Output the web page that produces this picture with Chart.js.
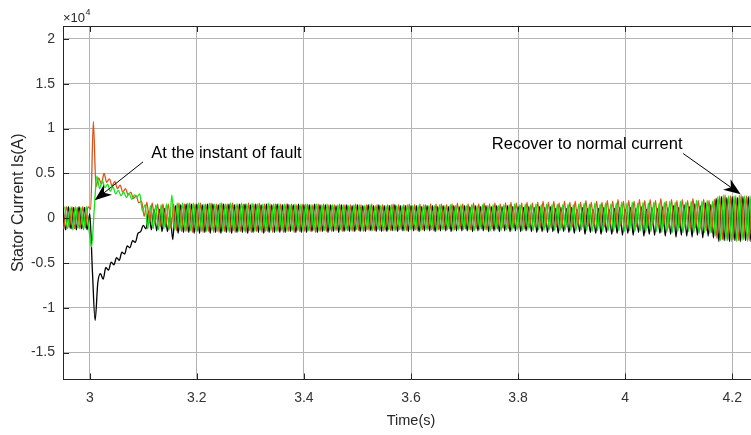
<!DOCTYPE html>
<html><head><meta charset="utf-8">
<script src="https://cdn.jsdelivr.net/npm/chart.js@4/dist/chart.umd.min.js"></script>
<style>html,body{margin:0;padding:0;background:#fff;overflow:hidden}#wrap{width:760px;height:435px}</style>
</head><body><div id="wrap"><canvas id="c" width="760" height="435"></canvas></div>
<script>
// ---- data (stator current, units of 1e4 A), one value per half cycle ----
const tStart = 2.95;          // first sample time (s)
const halfPeriod = 0.005;     // sample spacing (s)
const phaseOffsets = [0, 0.001667, 0.003333];
const xTicks = [3, 3.2, 3.4, 3.6, 3.8, 4, 4.2];
const yTicks = [-1.5, -1, -0.5, 0, 0.5, 1, 1.5, 2];
const xLabel = 'Time(s)';
const yLabel = 'Stator Current Is(A)';
const yExponent = '4';

const phaseBlack = [
 0.12,-0.13,0.13,-0.12,0.12,-0.13,0.13,-0.12,0.12,-0.13,
 0.05,-0.60,-1.14,-0.72,-0.62,-0.68,-0.55,-0.58,-0.49,-0.52,
 -0.44,-0.47,-0.38,-0.40,-0.31,-0.33,-0.25,-0.27,-0.17,-0.15,
 -0.08,-0.12,0.08,-0.13,0.10,-0.14,0.10,-0.15,0.11,-0.15,
 0.05,-0.24,0.14,-0.17,0.15,-0.16,0.16,-0.16,0.16,-0.17,
 0.16,-0.17,0.15,-0.16,0.16,-0.17,0.16,-0.16,0.15,-0.17,
 0.16,-0.16,0.16,-0.17,0.15,-0.16,0.16,-0.16,0.16,-0.17,
 0.15,-0.16,0.16,-0.16,0.15,-0.17,0.16,-0.16,0.15,-0.16,
 0.16,-0.16,0.15,-0.16,0.16,-0.15,0.15,-0.16,0.16,-0.16,
 0.15,-0.16,0.15,-0.15,0.16,-0.16,0.15,-0.15,0.15,-0.16,
 0.15,-0.15,0.14,-0.16,0.15,-0.15,0.15,-0.15,0.14,-0.15,
 0.15,-0.15,0.14,-0.15,0.15,-0.14,0.14,-0.15,0.15,-0.15,
 0.14,-0.15,0.14,-0.14,0.15,-0.15,0.14,-0.14,0.14,-0.15,
 0.14,-0.14,0.14,-0.15,0.13,-0.14,0.14,-0.14,0.14,-0.15,
 0.13,-0.14,0.14,-0.14,0.13,-0.15,0.14,-0.14,0.13,-0.14,
 0.14,-0.14,0.13,-0.15,0.14,-0.14,0.13,-0.14,0.14,-0.15,
 0.13,-0.14,0.14,-0.15,0.13,-0.14,0.14,-0.15,0.13,-0.14,
 0.13,-0.15,0.12,-0.14,0.13,-0.15,0.12,-0.16,0.13,-0.15,
 0.12,-0.16,0.13,-0.15,0.11,-0.17,0.12,-0.15,0.11,-0.16,
 0.12,-0.17,0.10,-0.15,0.12,-0.18,0.11,-0.16,0.10,-0.17,
 0.11,-0.18,0.12,-0.16,0.10,-0.18,0.11,-0.17,0.12,-0.19,
 0.10,-0.17,0.12,-0.19,0.11,-0.16,0.13,-0.20,0.10,-0.18,
 0.12,-0.19,0.11,-0.17,0.13,-0.20,0.12,-0.18,0.14,-0.21,
 0.12,-0.19,0.15,-0.20,0.13,-0.21,0.16,-0.19,0.14,-0.22,
 0.17,-0.20,0.15,-0.22,0.22,-0.26,0.24,-0.25,0.23,-0.26,
 0.24,-0.25,0.23,-0.26,0.24,-0.25,0.24,-0.26,0.23,-0.25
];
const phaseOrange = [
 -0.12,0.13,-0.11,0.13,-0.12,0.12,-0.12,0.13,-0.11,0.13,
 0.10,1.08,0.35,0.45,0.38,0.50,0.40,0.44,0.36,0.41,
 0.33,0.37,0.29,0.33,0.26,0.29,0.22,0.25,0.17,0.19,
 0.02,0.18,-0.05,0.17,-0.07,0.16,-0.09,0.16,-0.10,0.16,
 -0.12,0.16,-0.14,0.17,-0.15,0.16,-0.15,0.17,-0.16,0.16,
 -0.15,0.17,-0.16,0.16,-0.15,0.17,-0.16,0.16,-0.16,0.17,
 -0.15,0.16,-0.16,0.17,-0.16,0.16,-0.15,0.16,-0.16,0.17,
 -0.16,0.16,-0.15,0.17,-0.16,0.16,-0.15,0.16,-0.16,0.16,
 -0.15,0.16,-0.16,0.16,-0.15,0.16,-0.16,0.15,-0.15,0.16,
 -0.15,0.16,-0.15,0.15,-0.16,0.16,-0.15,0.16,-0.15,0.15,
 -0.15,0.15,-0.14,0.16,-0.15,0.15,-0.14,0.15,-0.15,0.16,
 -0.14,0.15,-0.15,0.15,-0.14,0.16,-0.14,0.15,-0.14,0.15,
 -0.14,0.15,-0.14,0.16,-0.14,0.15,-0.13,0.15,-0.14,0.16,
 -0.13,0.15,-0.14,0.16,-0.13,0.15,-0.13,0.16,-0.14,0.16,
 -0.13,0.16,-0.13,0.15,-0.12,0.16,-0.13,0.17,-0.12,0.16,
 -0.12,0.16,-0.13,0.17,-0.12,0.16,-0.12,0.17,-0.13,0.16,
 -0.12,0.17,-0.12,0.16,-0.11,0.17,-0.12,0.18,-0.11,0.17,
 -0.11,0.17,-0.12,0.18,-0.11,0.17,-0.10,0.18,-0.11,0.19,
 -0.10,0.18,-0.11,0.19,-0.10,0.17,-0.11,0.19,-0.10,0.18,
 -0.10,0.19,-0.09,0.18,-0.10,0.20,-0.09,0.18,-0.10,0.19,
 -0.09,0.18,-0.10,0.20,-0.09,0.19,-0.10,0.21,-0.09,0.19,
 -0.10,0.20,-0.08,0.19,-0.10,0.21,-0.09,0.20,-0.11,0.21,
 -0.09,0.20,-0.10,0.22,-0.09,0.19,-0.11,0.21,-0.10,0.20,
 -0.11,0.21,-0.10,0.20,-0.12,0.22,-0.11,0.20,-0.13,0.21,
 -0.14,0.20,-0.16,0.21,-0.23,0.25,-0.24,0.26,-0.25,0.25,
 -0.24,0.25,-0.25,0.26,-0.24,0.25,-0.25,0.24,-0.24,0.25
];
const phaseGreen = [
 0.13,-0.12,0.12,-0.13,0.13,-0.11,0.12,-0.13,0.13,-0.12,
 -0.32,0.10,0.47,0.33,0.42,0.34,0.38,0.30,0.35,0.27,
 0.31,0.25,0.29,0.23,0.28,0.21,0.26,0.24,0.27,0.08,
 0.15,-0.12,0.14,-0.12,0.15,-0.13,0.15,-0.12,0.16,-0.13,
 0.26,-0.13,0.17,-0.14,0.17,-0.15,0.17,-0.14,0.17,-0.15,
 0.17,-0.15,0.16,-0.15,0.17,-0.14,0.16,-0.15,0.17,-0.15,
 0.16,-0.15,0.17,-0.14,0.16,-0.15,0.17,-0.15,0.16,-0.14,
 0.17,-0.15,0.16,-0.14,0.16,-0.15,0.17,-0.14,0.16,-0.15,
 0.16,-0.14,0.16,-0.15,0.15,-0.14,0.16,-0.14,0.15,-0.15,
 0.16,-0.14,0.15,-0.14,0.16,-0.15,0.15,-0.14,0.16,-0.14,
 0.15,-0.14,0.15,-0.13,0.15,-0.14,0.14,-0.14,0.15,-0.13,
 0.15,-0.14,0.14,-0.13,0.15,-0.14,0.14,-0.13,0.14,-0.14,
 0.14,-0.13,0.15,-0.14,0.14,-0.13,0.14,-0.14,0.15,-0.13,
 0.14,-0.13,0.14,-0.14,0.15,-0.13,0.14,-0.13,0.14,-0.14,
 0.15,-0.13,0.14,-0.13,0.15,-0.14,0.14,-0.13,0.15,-0.13,
 0.14,-0.13,0.15,-0.14,0.14,-0.13,0.15,-0.13,0.14,-0.14,
 0.15,-0.13,0.14,-0.14,0.15,-0.13,0.15,-0.14,0.16,-0.13,
 0.15,-0.14,0.16,-0.13,0.15,-0.14,0.16,-0.13,0.15,-0.14,
 0.16,-0.13,0.15,-0.14,0.16,-0.14,0.15,-0.13,0.16,-0.14,
 0.15,-0.14,0.16,-0.13,0.17,-0.14,0.16,-0.15,0.17,-0.14,
 0.16,-0.15,0.17,-0.14,0.16,-0.15,0.17,-0.14,0.18,-0.15,
 0.17,-0.14,0.18,-0.15,0.17,-0.14,0.18,-0.16,0.17,-0.15,
 0.18,-0.15,0.17,-0.16,0.18,-0.15,0.19,-0.16,0.18,-0.15,
 0.19,-0.16,0.18,-0.15,0.19,-0.16,0.20,-0.17,0.19,-0.16,
 0.20,-0.17,0.19,-0.20,0.24,-0.25,0.26,-0.25,0.25,-0.26,
 0.25,-0.26,0.26,-0.25,0.25,-0.26,0.25,-0.25,0.26,-0.25
];

// annotations: text anchor and arrow tail/tip in data units
const annotationTexts = ['At the instant of fault', 'Recover to normal current'];
const annotationTextPos = [[3.1148, 0.675], [3.7509, 0.77]];
const annotationArrows = [[[3.0994, 0.628], [3.0092, 0.20]], [[4.1083, 0.722], [4.2158, 0.267]]];

const FONT = "'Liberation Sans', Arial, Helvetica, sans-serif";
Chart.defaults.font.family = FONT;

function buildSeries(values, offset) {
  return values.map((v, j) => ({x: tStart + offset + j * halfPeriod, y: v}));
}

const axisDeco = {
  id: 'axisDeco',
  afterDraw(chart) {
    const {ctx, chartArea: a, scales: {x, y}} = chart;
    ctx.save();
    ctx.strokeStyle = '#262626';
    ctx.lineWidth = 1;
    // top border
    ctx.beginPath();
    ctx.moveTo(a.left, Math.round(a.top) + 0.5);
    ctx.lineTo(a.right, Math.round(a.top) + 0.5);
    ctx.stroke();
    // inside tick marks
    const tl = 6;
    ctx.beginPath();
    xTicks.forEach(v => {
      const px = Math.round(x.getPixelForValue(v)) + 0.5;
      ctx.moveTo(px, a.bottom); ctx.lineTo(px, a.bottom - tl);
      ctx.moveTo(px, a.top); ctx.lineTo(px, a.top + tl);
    });
    yTicks.forEach(v => {
      const py = Math.round(y.getPixelForValue(v)) + 0.5;
      ctx.moveTo(a.left, py); ctx.lineTo(a.left + tl, py);
    });
    ctx.stroke();
    // exponent label
    ctx.fillStyle = '#262626';
    ctx.textBaseline = 'alphabetic';
    ctx.textAlign = 'left';
    ctx.font = '13px ' + FONT;
    ctx.fillText('\u00d710', a.left, a.top - 4);
    const w = ctx.measureText('\u00d710').width;
    ctx.font = '9px ' + FONT;
    ctx.fillText(yExponent, a.left + w + 0.5, a.top - 11);
    // annotations
    ctx.fillStyle = '#000';
    ctx.strokeStyle = '#000';
    ctx.font = '16.5px ' + FONT;
    annotationTexts.forEach((t, i) => {
      const [tx, ty] = annotationTextPos[i];
      ctx.fillText(t, x.getPixelForValue(tx), y.getPixelForValue(ty));
      const [[x0, y0], [x1, y1]] = annotationArrows[i];
      const p0 = [x.getPixelForValue(x0), y.getPixelForValue(y0)];
      const p1 = [x.getPixelForValue(x1), y.getPixelForValue(y1)];
      const ang = Math.atan2(p1[1] - p0[1], p1[0] - p0[0]);
      const L = 17, W = 6.5, N = 12;
      ctx.beginPath();
      ctx.moveTo(p0[0], p0[1]);
      ctx.lineTo(p1[0] - Math.cos(ang) * N, p1[1] - Math.sin(ang) * N);
      ctx.stroke();
      const bx = p1[0] - Math.cos(ang) * L, by = p1[1] - Math.sin(ang) * L;
      const nx = -Math.sin(ang), ny = Math.cos(ang);
      ctx.beginPath();
      ctx.moveTo(p1[0], p1[1]);
      ctx.lineTo(bx + nx * W, by + ny * W);
      ctx.lineTo(p1[0] - Math.cos(ang) * N, p1[1] - Math.sin(ang) * N);
      ctx.lineTo(bx - nx * W, by - ny * W);
      ctx.closePath();
      ctx.fill();
    });
    ctx.restore();
  }
};

new Chart(document.getElementById('c'), {
  type: 'line',
  data: {
    datasets: [
      {label: 'Is_c', data: buildSeries(phaseGreen, phaseOffsets[2]), borderColor: '#14e614', order: 1},
      {label: 'Is_b', data: buildSeries(phaseOrange, phaseOffsets[1]), borderColor: '#d95319', order: 2},
      {label: 'Is_a', data: buildSeries(phaseBlack, phaseOffsets[0]), borderColor: '#000000', order: 3}
    ].map(d => Object.assign(d, {borderWidth: 1.3, pointRadius: 0, cubicInterpolationMode: 'monotone', fill: false}))
  },
  options: {
    responsive: false,
    animation: false,
    devicePixelRatio: 1,
    layout: {padding: {top: 26, right: 1, bottom: 0, left: 0}},
    plugins: {legend: {display: false}, tooltip: {enabled: false}},
    scales: {
      x: {
        type: 'linear', min: 2.95, max: 4.25,
        afterBuildTicks: s => { s.ticks = xTicks.map(v => ({value: v})); },
        afterFit: s => { s.height = 55.5; },
        ticks: {callback: v => String(v), color: '#333', font: {size: 14}, padding: 10, maxRotation: 0, autoSkip: false},
        grid: {color: '#b4b4b4', lineWidth: 1, drawTicks: false},
        border: {display: true, color: '#262626', width: 1},
        title: {display: true, text: xLabel, color: '#262626', font: {size: 14.5}, padding: {top: 0, bottom: 5}}
      },
      y: {
        type: 'linear', min: -1.8, max: 2.145,
        afterBuildTicks: s => { s.ticks = yTicks.map(v => ({value: v})); },
        afterFit: s => { s.width = 63; },
        ticks: {callback: v => String(v), color: '#333', font: {size: 14}, padding: 8, autoSkip: false},
        grid: {color: '#b4b4b4', lineWidth: 1, drawTicks: false},
        border: {display: true, color: '#262626', width: 1},
        title: {display: true, text: yLabel, color: '#262626', font: {size: 16}, padding: {top: 9, bottom: 0}}
      }
    }
  },
  plugins: [axisDeco]
});
</script>
</body></html>
